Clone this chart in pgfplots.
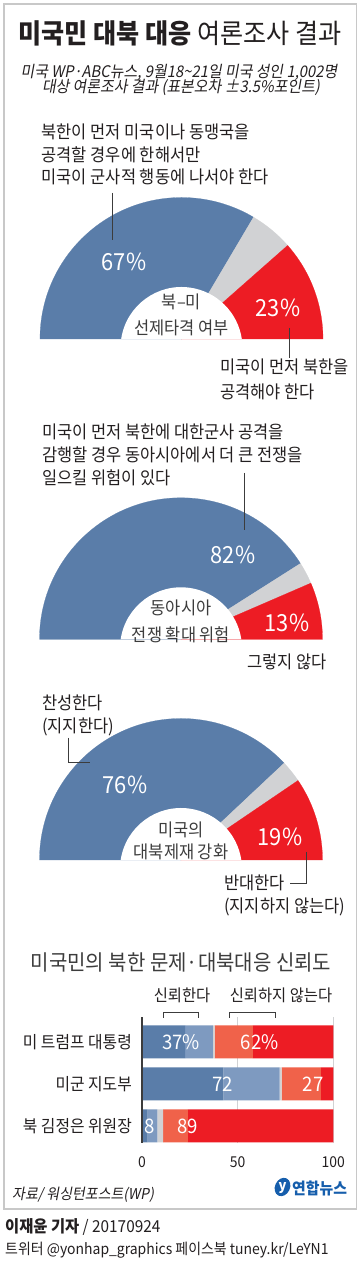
\documentclass[border=0pt]{standalone}
\usepackage{pgfplots}
\pgfplotsset{compat=1.18}
\usepackage{pgfplotstable}
\usepackage{fontspec}
\setmainfont{Noto Sans CJK KR}[FakeStretch=0.93]
\newfontfamily\slfont{Noto Sans CJK KR}[FakeStretch=0.93,FakeSlant=0.18]

\definecolor{cblue}{RGB}{90,125,169}
\definecolor{clblue}{RGB}{126,154,192}
\definecolor{cgray}{RGB}{209,210,212}
\definecolor{cred}{RGB}{237,28,36}
\definecolor{csalmon}{RGB}{240,98,74}
\definecolor{ctext}{RGB}{35,31,32}
\definecolor{cmid}{RGB}{60,60,60}
\definecolor{cframe}{RGB}{200,200,200}
\definecolor{cyon}{RGB}{22,94,172}

\newcommand\fs[1]{\fontsize{#1}{#1}\selectfont}

% semi-donut data: share (%) and colour of each segment, clockwise from the left
\pgfplotstableread{
val col
67 cblue
10 cgray
23 cred
}\donutA
\pgfplotstableread{
val col
82 cblue
5 cgray
13 cred
}\donutB
\pgfplotstableread{
val col
76 cblue
5 cgray
19 cred
}\donutC

% stacked bars: strong trust, some trust, no opinion, some distrust, strong distrust
\pgfplotstableread{
y dark light gray salmon red
1 3 5 3 13 76
2 42.5 29.5 1 20.5 6.5
3 22.5 14.5 1 20 42
}\bars

\def\Rout{141.5}
\newcommand{\semidonut}[3]{%
  \pgfplotstablegetrowsof{#1}%
  \pgfmathtruncatemacro\lastrow{\pgfplotsretval-1}%
  \xdef\curangle{180}%
  \foreach \r in {0,...,\lastrow}{%
    \pgfplotstablegetelem{\r}{val}\of{#1}\let\segval\pgfplotsretval
    \pgfplotstablegetelem{\r}{col}\of{#1}\let\segcol\pgfplotsretval
    \pgfmathsetmacro\newangle{\curangle-1.8*\segval}%
    \edef\tmp{\noexpand\fill[\segcol, draw=\segcol, line width=0.2pt] (#2,#3) -- ++(\curangle:\Rout pt) arc[start angle=\curangle, end angle=\newangle, radius=\Rout pt] -- cycle;}%
    \tmp
    \global\let\curangle\newangle
  }%
  \pgfmathsetmacro\hx{#2-60.33}%
  \edef\tmp{\noexpand\fill[white] (\hx,#3) arc[start angle=171.51, end angle=8.49, radius=61pt] -- cycle;}%
  \tmp
}

\begin{document}
\begin{tikzpicture}
\path[use as bounding box] (0pt,0pt) rectangle (362pt,1278pt);
\fill[white] (0pt,0pt) rectangle (362pt,1278pt);

\begin{axis}[at={(0pt,0pt)}, anchor=south west, x=1pt, y=1pt,
  xmin=0, xmax=362, ymin=0, ymax=1278, hide axis, clip=false]
\draw[cframe, line width=1.2pt] (4,69) rectangle (356.5,1274);

% title
\node[inner sep=0, text=ctext] at (180,1245) {\fs{27}\textbf{미국민 대북 대응} 여론조사 결과};
\node[inner sep=0, text=ctext] at (179,1206) {\slfont\fs{16}미국 WP·ABC뉴스, 9월18\textasciitilde21일 미국 성인 1,002명};
\node[inner sep=0, text=ctext] at (181,1190.5) {\slfont\fs{16}대상 여론조사 결과 (표본오차 ±3.5\%포인트)};

% semi-donuts
\semidonut{\donutA}{181.5}{939}
\semidonut{\donutB}{181}{638.7}
\semidonut{\donutC}{181}{418}

% texts
\begin{scope}[every node/.style={inner sep=0, text=ctext, font=\fs{17.7}}]
\node[anchor=west] at (41.5,1146) {북한이 먼저 미국이나 동맹국을};
\node[anchor=west] at (41.5,1123) {공격할 경우에 한해서만};
\node[anchor=west] at (41.5,1101) {미국이 군사적 행동에 나서야 한다};
\node[anchor=west] at (220,911) {미국이 먼저 북한을};
\node[anchor=west] at (220,886) {공격해야 한다};
\node[text=cmid] at (181.5,976) {북–미};
\node[text=cmid] at (181.5,950) {선제타격 여부};
\node[anchor=west] at (42,846) {미국이 먼저 북한에 대한군사 공격을};
\node[anchor=west] at (42,823) {감행할 경우 동아시아에서 더 큰 전쟁을};
\node[anchor=west] at (42,800) {일으킬 위험이 있다};
\node[anchor=west] at (247,616) {그렇지 않다};
\node[text=cmid] at (181,670) {동아시아};
\node[text=cmid] at (181,643) {전쟁 확대 위험};
\node[anchor=west] at (42,575) {찬성한다};
\node[anchor=west] at (42,551) {(지지한다)};
\node[anchor=west] at (224,395) {반대한다};
\node[anchor=west] at (224,371) {(지지하지 않는다)};
\node[text=cmid] at (181,448) {미국의};
\node[text=cmid] at (181,426) {대북제재 강화};
\end{scope}

\begin{scope}[every node/.style={inner sep=0, text=white, font=\fs{23.5}}]
\node at (124,1016) {67\%};
\node at (278,970) {23\%};
\node at (233,723) {82\%};
\node at (287,655) {13\%};
\node at (125,493) {76\%};
\node at (280,441) {19\%};
\end{scope}

% leader lines
\draw[cmid, line width=0.8pt] (112.7,1085) -- (112.7,1038);
\draw[cmid, line width=0.8pt] (289,950) -- (289,920);
\draw[cmid, line width=0.8pt] (244,805) -- (244,748);
\draw[cmid, line width=0.8pt] (68,540) -- (68,516) -- (90,516);
\draw[cmid, line width=0.8pt] (306,426) -- (306,395) -- (290,395);

% bar chart header
\node[inner sep=0, text=cmid] at (181,316) {\fs{21.5}미국민의 북한 문제·대북대응 신뢰도};
\node[inner sep=0, text=ctext] at (182,283) {\fs{16.5}신뢰한다};
\node[inner sep=0, text=ctext] at (281,283) {\fs{16.5}신뢰하지 않는다};
\draw[cmid, line width=0.6pt] (163,260) -- (163,266) -- (198,266) -- (198,260);
\draw[cmid, line width=0.6pt] (229,260) -- (229,266) -- (275,266) -- (275,260);

% footer
\node[anchor=west, inner sep=0, text=ctext] at (12,83) {\slfont\fs{15}자료/ 워싱턴포스트(WP)};
\fill[cyon, rotate around={-25:(282.5,91)}] (282.5,91) ellipse [x radius=7.5pt, y radius=9.5pt];
\node[inner sep=0, text=white] at (282.5,90) {\fs{14}\textbf{\itshape y}};
\node[anchor=west, inner sep=0, text=cyon] at (292,89.5) {\fs{16}\textbf{연합뉴스}};
\node[anchor=west, inner sep=0, text=ctext] at (5,51) {\fs{16.5}\textbf{이재윤 기자} / 20170924};
\node[anchor=west, inner sep=0, text=ctext] at (5,28) {\fs{15}트위터 @yonhap\_graphics 페이스북 tuney.kr/LeYN1};
\end{axis}

\begin{axis}[at={(142pt,135pt)}, anchor=south west, scale only axis,
  width=191.3pt, height=125.5pt,
  xbar stacked, bar width=33pt,
  xmin=0, xmax=100, ymin=0.595, ymax=3.583,
  axis line style={draw=none}, tick style={draw=none},
  xmajorgrids, grid style={cgray, line width=0.7pt},
  xtick={0,50,100}, xticklabels={0,50,100},
  xticklabel style={anchor=center, yshift=-19pt, inner sep=0, font=\fs{15}, text=ctext},
  ytick={1,2,3}, yticklabels={북 김정은 위원장,미군 지도부,미 트럼프 대통령},
  yticklabel style={anchor=east, inner sep=0, xshift=-10pt, font=\fs{17}, text=ctext},
  clip=false]
\addplot[fill=cblue, draw=none] table[x=dark, y=y] {\bars};
\addplot[fill=clblue, draw=none] table[x=light, y=y] {\bars};
\addplot[fill=cgray, draw=none] table[x=gray, y=y] {\bars};
\addplot[fill=csalmon, draw=none] table[x=salmon, y=y] {\bars};
\addplot[fill=cred, draw=none] table[x=red, y=y] {\bars};
\coordinate (ax0) at (0,0.595);
\coordinate (ax1) at (0,3.583);
\coordinate (t37) at (20.5,3);
\coordinate (t62) at (61.5,3);
\coordinate (t72) at (42.3,2);
\coordinate (t27) at (89.4,2);
\coordinate (t8) at (4.2,1);
\coordinate (t89) at (24,1);
\end{axis}
\draw[cmid, line width=1.4pt] (ax0) -- (ax1);
\begin{scope}[every node/.style={inner sep=0, text=white, font=\fs{20}}]
\node at (t37) {37\%};
\node at (t62) {62\%};
\node at (t72) {72};
\node at (t27) {27};
\node at (t8) {8};
\node at (t89) {89};
\end{scope}
\end{tikzpicture}
\end{document}
